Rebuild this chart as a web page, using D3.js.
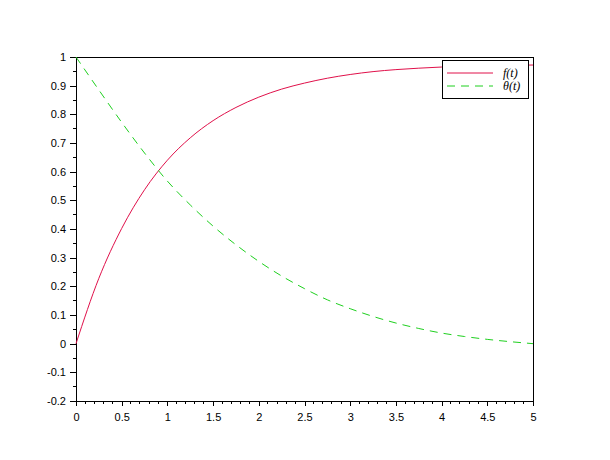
<!DOCTYPE html>
<html>
<head>
<meta charset="utf-8">
<script src="https://cdn.jsdelivr.net/npm/d3@7/dist/d3.min.js"></script>
<style>
html,body{margin:0;padding:0;background:#fff;}
svg{display:block;}
</style>
</head>
<body>
<svg id="chart" width="610" height="460"></svg>
<script>
// ---- data ----
const tValues = [0,0.25,0.5,0.75,1,1.25,1.5,1.75,2,2.25,2.5,2.75,3,3.25,3.5,3.75,4,4.25,4.5,4.75,5];
const fValues = [0,0.228,0.402,0.537,0.64,0.718,0.778,0.824,0.86,0.888,0.909,0.926,0.939,0.949,0.956,0.961,0.965,0.968,0.97,0.971,0.972];
const thetaValues = [1,0.885,0.772,0.665,0.567,0.484,0.41,0.345,0.287,0.236,0.192,0.153,0.122,0.095,0.072,0.053,0.037,0.025,0.015,0.007,0];
const xTicks = [0,0.5,1,1.5,2,2.5,3,3.5,4,4.5,5];
const yTicks = [-0.2,-0.1,0,0.1,0.2,0.3,0.4,0.5,0.6,0.7,0.8,0.9,1];
const xTickLabels = ["0","0.5","1","1.5","2","2.5","3","3.5","4","4.5","5"];
const yTickLabels = ["-0.2","-0.1","0","0.1","0.2","0.3","0.4","0.5","0.6","0.7","0.8","0.9","1"];
const seriesNames = ["f(t)","θ(t)"];
const seriesColors = ["#e0104a","#1fd01f"];

const svg = d3.select("#chart");
const L = 76, R = 533, T = 57, B = 401;
const x = d3.scaleLinear().domain([0,5]).range([L,R]);
const y = d3.scaleLinear().domain([-0.2,1]).range([B,T]);

const font = "'Liberation Sans', Arial, sans-serif";

// axes
const xAxis = d3.axisBottom(x).tickValues(xTicks).tickSize(5).tickPadding(7)
  .tickFormat((d,i)=>xTickLabels[i]);
const gx = svg.append("g").attr("transform",`translate(0,${B})`).call(xAxis);
const yAxis = d3.axisLeft(y).tickValues(yTicks).tickSize(6).tickPadding(4)
  .tickFormat((d,i)=>yTickLabels[i]);
const gy = svg.append("g").attr("transform",`translate(${L},0)`).call(yAxis);

// minor ticks
const xMinor = d3.range(0,51).map(i=>i/10).filter(v=>Math.abs(v*2-Math.round(v*2))>1e-6);
const yMinor = d3.range(-4,21).map(i=>i/20).filter(v=>Math.abs(v*10-Math.round(v*10))>1e-6);
svg.append("g").selectAll("line").data(xMinor).join("line")
  .attr("x1",d=>x(d)).attr("x2",d=>x(d)).attr("y1",B).attr("y2",B+3)
  .attr("stroke","#000").attr("stroke-width",1).attr("shape-rendering","crispEdges");
svg.append("g").selectAll("line").data(yMinor).join("line")
  .attr("x1",L-3).attr("x2",L).attr("y1",d=>y(d)).attr("y2",d=>y(d))
  .attr("stroke","#000").attr("stroke-width",1).attr("shape-rendering","crispEdges");

[gx,gy].forEach(g=>{
  g.select(".domain").attr("stroke","#000").attr("shape-rendering","crispEdges");
  g.selectAll(".tick line").attr("stroke","#000").attr("shape-rendering","crispEdges");
  g.selectAll("text").attr("font-family",font).attr("font-size",11).attr("fill","#000");
});

// box top/right
svg.append("line").attr("x1",L).attr("x2",R).attr("y1",T).attr("y2",T)
  .attr("stroke","#000").attr("shape-rendering","crispEdges");
svg.append("line").attr("x1",R).attr("x2",R).attr("y1",T).attr("y2",B)
  .attr("stroke","#000").attr("shape-rendering","crispEdges");

// curves
const line = d3.line().x(d=>x(d[0])).y(d=>y(d[1])).curve(d3.curveMonotoneX);
const fData = tValues.map((t,i)=>[t,fValues[i]]);
const thData = tValues.map((t,i)=>[t,thetaValues[i]]);
svg.append("path").datum(fData).attr("d",line).attr("fill","none")
  .attr("stroke",seriesColors[0]).attr("stroke-width",1);
svg.append("path").datum(thData).attr("d",line).attr("fill","none")
  .attr("stroke",seriesColors[1]).attr("stroke-width",1).attr("stroke-dasharray","8,6");

// legend
const lg = svg.append("g");
lg.append("rect").attr("x",442.5).attr("y",60.5).attr("width",86).attr("height",38)
  .attr("fill","#fff").attr("stroke","#000").attr("stroke-width",1);
seriesNames.forEach((name,i)=>{
  const yy = 73 + i*13;
  lg.append("line").attr("x1",447).attr("x2",493).attr("y1",yy).attr("y2",yy)
    .attr("stroke",seriesColors[i]).attr("stroke-width",1)
    .attr("stroke-dasharray", i===1 ? "8,6" : null);
  lg.append("text").attr("x",503).attr("y",yy).attr("dy","0.35em")
    .attr("font-family","'Liberation Serif','DejaVu Serif',serif").attr("font-style","italic")
    .attr("font-size",12).attr("fill","#000").text(name);
});
</script>
</body>
</html>
